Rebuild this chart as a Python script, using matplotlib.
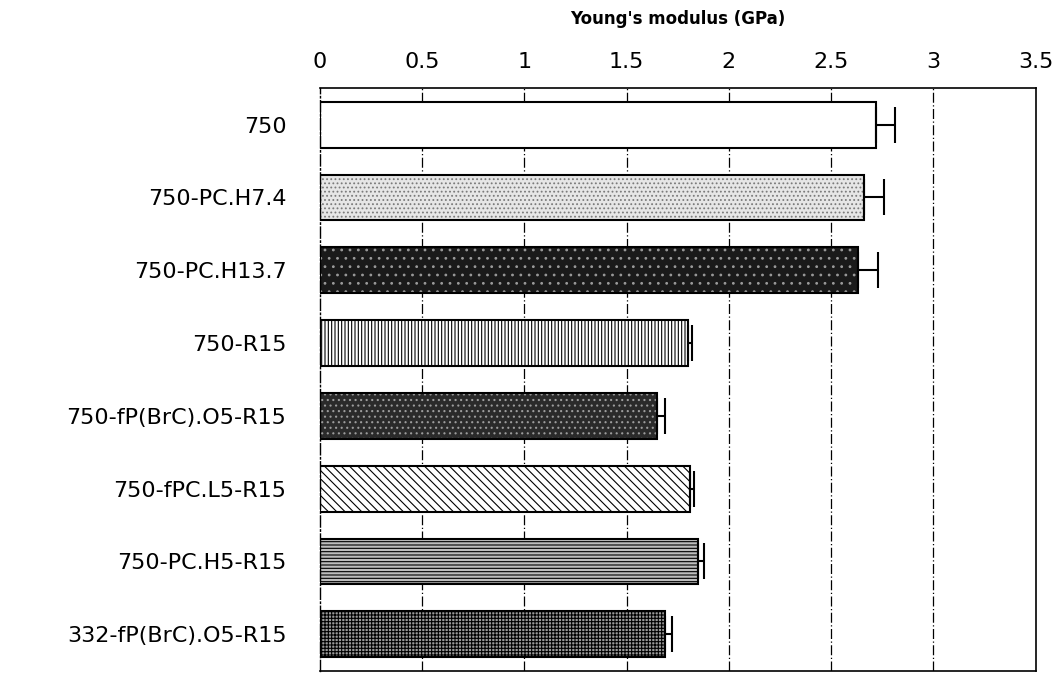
import matplotlib
matplotlib.use("Agg")
from matplotlib import pyplot as plt

labels = ["750", "750-PC.H7.4", "750-PC.H13.7", "750-R15",
          "750-fP(BrC).O5-R15", "750-fPC.L5-R15", "750-PC.H5-R15",
          "332-fP(BrC).O5-R15"]
modulus = [2.72, 2.66, 2.63, 1.80, 1.65, 1.81, 1.85, 1.69]
errors = [0.09, 0.10, 0.10, 0.02, 0.04, 0.02, 0.03, 0.03]

# fill colour, hatch colour, hatch pattern for each bar
faces = ["white", "#e6e6e6", "#1a1a1a", "white", "#2a2a2a", "white", "#bdbdbd", "#9a9a9a"]
hatch_cols = ["white", "#7a7a7a", "#9a9a9a", "black", "#9c9c9c", "black", "black", "black"]
hatches = [None, "....", "..", "|||||", "...", "\\\\\\\\", "-----", "+++++"]

plt.rcParams["font.family"] = ["DejaVu Sans"]
plt.rcParams["hatch.linewidth"] = 0.8

fig = plt.figure(figsize=(10.59, 6.74), dpi=100)
ax = fig.add_axes([0.302, 0.005, 0.676, 0.864])

y = list(range(len(labels)))
h = 0.63
ax.barh(y, modulus, height=h, color=faces, edgecolor="none", zorder=2)
for i in y:
    if hatches[i]:
        ax.barh(i, modulus[i], height=h, color="none", edgecolor=hatch_cols[i],
                hatch=hatches[i], linewidth=0, zorder=3)
ax.barh(y, modulus, height=h, fill=False, edgecolor="black", linewidth=1.5, zorder=4)
ax.errorbar(modulus, y, xerr=[[0] * len(errors), errors], fmt="none",
            ecolor="black", elinewidth=1.5, capsize=13, capthick=1.5, zorder=5)

ax.set_xlim(0, 3.5)
ax.set_ylim(len(labels) - 0.5, -0.5)
ax.set_xticks([0, 0.5, 1, 1.5, 2, 2.5, 3, 3.5])
ax.set_xticklabels(["0", "0.5", "1", "1.5", "2", "2.5", "3", "3.5"])
ax.set_yticks(y)
ax.set_yticklabels(labels)
ax.xaxis.tick_top()
ax.xaxis.set_label_position("top")
ax.set_xlabel("Young's modulus (GPa)", fontsize=12, fontweight="bold", labelpad=20)
ax.tick_params(axis="x", length=0, pad=12, labelsize=16)
ax.tick_params(axis="y", length=0, pad=24, labelsize=16)

for x in [0.5, 1, 1.5, 2, 2.5, 3]:
    ax.axvline(x, color="black", linestyle=(0, (8, 2, 1, 2)), linewidth=0.9, zorder=1)
for side in ["top", "right", "bottom"]:
    ax.spines[side].set_linewidth(1.2)
ax.spines["left"].set_linestyle((0, (8, 2, 1, 2)))
ax.spines["left"].set_linewidth(1.0)

fig.savefig("out.png", dpi=100)
